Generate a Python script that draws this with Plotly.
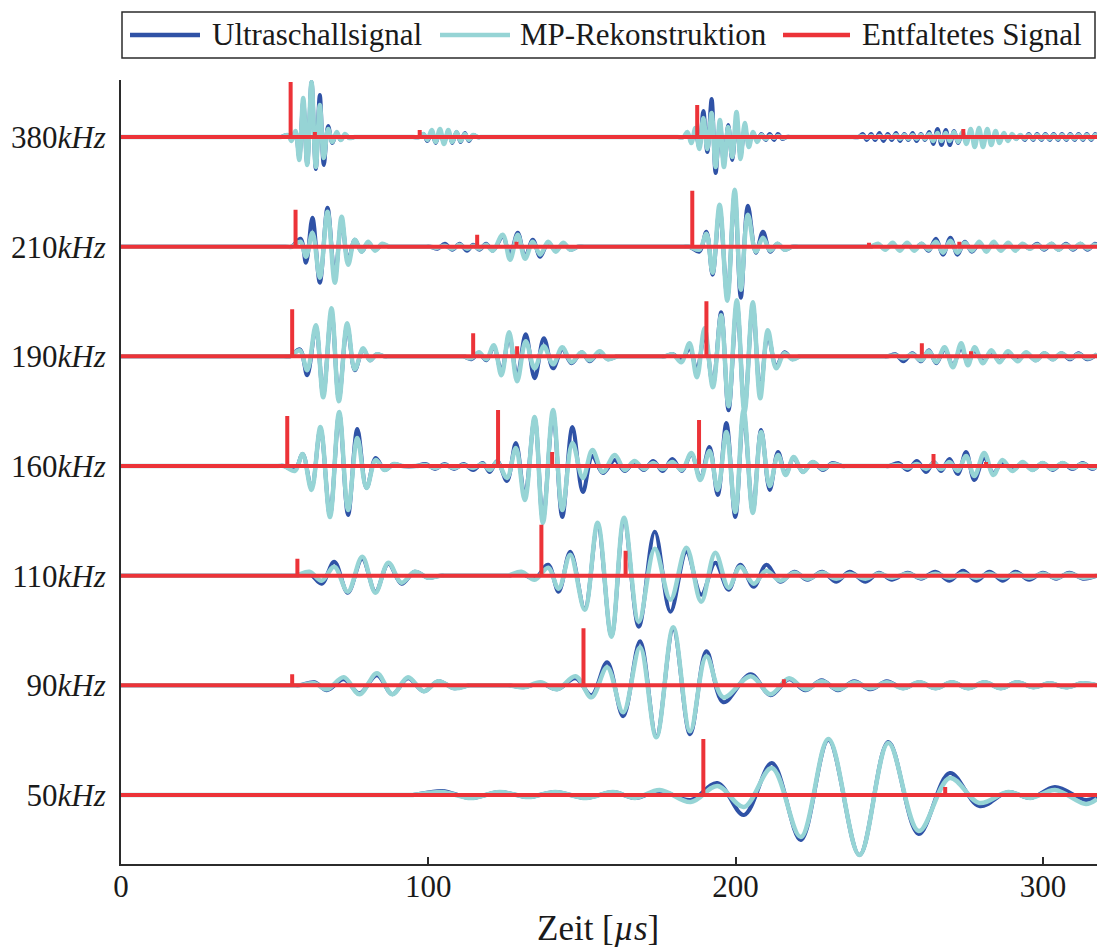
import plotly.graph_objects as go

# ---------------- data ----------------
T_END = 317.6  # right end of the time axis [µs]

ROW_NAMES = ["380", "210", "190", "160", "110", "90", "50"]
ROW_OFFSETS = [658.0, 548.3, 438.7, 329.0, 219.3, 109.7, 0.0]

# extrema times [µs] and amplitudes (blue = Ultraschallsignal, cyan = MP-Rekonstruktion)
t_380 = [0.0, 50.0, 52.0, 54.3, 55.5, 56.8, 58.0, 59.3, 60.6, 62.0, 63.4, 64.7, 66.0, 67.4, 68.8, 70.2, 71.5, 72.9, 74.3, 76.0, 78.0,
         95.0, 97.0, 98.4, 99.7, 101.1, 102.4, 103.8, 105.1, 106.5, 107.8, 109.2, 110.5, 111.9, 113.2, 114.6, 116.0, 118.0,
         181.0, 183.0, 184.3, 185.6, 186.9, 188.2, 189.5, 190.8, 192.2, 193.5, 194.9, 196.2, 197.6, 198.9, 200.3, 201.6, 203.0,
         204.3, 205.7, 207.0, 208.4, 209.8, 211.1, 212.5, 213.8, 215.2, 216.6, 218.6,
         238.0, 240.0, 241.4, 242.7, 244.1, 245.4, 246.8, 248.1, 249.5, 250.8, 252.2, 253.5, 254.9, 256.2, 257.6, 258.9, 260.3,
         261.6, 263.0, 264.3, 265.7, 267.0, 268.4, 269.7, 271.1, 272.4, 273.8, 275.1, 276.5, 277.8, 279.2, 280.5, 281.9,
         283.2, 284.6, 285.9, 287.3, 288.6, 290.0, 291.3,
         292.7, 294.1, 295.4, 296.8, 298.1, 299.5, 300.8, 302.2, 303.5, 304.9, 306.2, 307.6, 308.9, 310.3, 311.6, 313.0,
         314.3, 315.7, 317.0, 317.6]
blue_380 = [0, 0, 0, 2, -3, 5, -20, 35, -27, 55, -32, 42, -28, 11, -6, 4, -3, 2, -1, 0, 0,
            0, 0, 3, -4, 5, -6, 6, -6, 6, -6, 5, -5, 4, -4, 2, 0, 0,
            0, 0, 3, -4, 5, -10, 26, -15, 38, -36, 14, -27, 12, -23, 18, -18, 8,
            -6, 4, -4, 3, -3, 3, -3, 3, -2, 0, 0,
            0, 0, 3, -3, 3, -3, 4, -4, 3, -3, 4, -4, 3, -3, 4, -4, 3,
            -3, 5, -7, 8, -8, 7, -8, 6, -6, 4, -5, 5, -6, 5, -6, 4,
            -5, 3, -4, 3, -3, 2, -2,
            2, -3, 3, -3, 3, -3, 3, -3, 3, -3, 3, -3, 3, -3, 3, -3,
            3, -3, 3, -1]
cyan_380 = [0, 0, 0, 2, -4, 6, -23, 39, -28, 55, -30, 32, -21, 8, -5, 5, -3, 3, -1, 0, 0,
            0, 0, 3, -3, 7, -5, 8, -7, 7, -5, 5, -4, 3, -3, 2, 0, 0,
            0, 0, 5, -6, 9, -12, 19, -12, 24, -30, 17, -30, 10, -20, 25, -22, 14,
            -10, 5, -5, 2, -2, 1, -1, 1, -1, 0, 0,
            0, 0, 1, -1, 1, -1, 1, -1, 1, -1, 2, -2, 2, -2, 2, -2, 2,
            -2, 3, -4, 4, -4, 4, -4, 5, -5, 5, -7, 8, -10, 9, -10, 8,
            -8, 6, -6, 4, -4, 3, -2,
            2, -2, 2, -2, 2, -2, 2, -2, 2, -2, 2, -2, 2, -2, 2, -2,
            2, -2, 2, -1]

t_210 = [0.0, 53.5, 55.5, 58.4, 60.2, 62.3, 64.7, 67.2, 69.6, 71.8, 73.9, 76.1, 78.3, 80.4, 82.7, 85.0, 87.3, 89.3,
         98.6, 100.6, 103.0, 105.4, 107.8, 110.2, 112.6, 114.6, 116.6, 118.8, 121.0, 124.2, 126.6, 129.1, 131.5, 134.0,
         136.4, 139.0, 141.5, 143.9, 146.3, 148.7, 150.7,
         183.0, 185.0, 188.2, 190.5, 192.5, 194.8, 197.3, 199.7, 201.7, 204.0, 206.6, 208.9, 211.3, 213.6, 216.0, 218.4, 220.4,
         242.0, 244.0, 246.4, 248.7, 251.1, 253.4, 255.8, 258.1, 260.5, 262.8, 265.2, 267.5, 269.9, 272.2, 274.6, 276.9,
         279.3, 281.6, 284.0, 286.3, 288.7, 291.0, 293.4, 295.7,
         298.1, 300.4, 302.8, 305.1, 307.5, 309.8, 312.2, 314.5, 316.9, 317.6]
blue_210 = [0, 0, 0, 8, -16, 29, -36, 39, -30, 25, -14, 7, -5, 4, -3, 2, 0, 0,
            0, 0, -2, 3, -3, 3, -4, 2, -3, 3, -4, 10, -8, 14, -10, 7,
            -10, 4, -4, 3, -3, 0, 0,
            0, 0, -5, 15, -28, 38, -50, 52, -51, 41, -6, 15, -5, 3, -3, 0, 0,
            0, 0, 2, -2, 2, -2, 3, -3, 3, -4, 8, -8, 9, -8, 5, -5,
            3, -3, 3, -3, 2, -2, 2, -2,
            3, -3, 3, -3, 3, -3, 3, -3, 3, 2]
cyan_210 = [0, 0, 0, 5, -10, 14, -31, 35, -36, 30, -18, 7, -5, 5, -4, 3, 0, 0,
            0, 0, -1, 1, -2, 2, -2, 1, -2, 2, -4, 12, -13, 12, -12, 5,
            -8, 5, -5, 4, -3, 0, 0,
            0, 0, -3, 13, -26, 42, -54, 57, -43, 32, -5, 9, -4, 3, -3, 0, 0,
            0, 0, 3, -3, 4, -4, 4, -4, 3, -3, 5, -6, 6, -6, 4, -4,
            5, -5, 5, -4, 4, -4, 3, -2,
            2, -2, 3, -3, 2, -2, 3, -2, 2, 1]

t_190 = [0.0, 53.0, 55.0, 58.2, 60.6, 63.4, 65.8, 68.5, 70.9, 73.6, 76.1, 78.8, 81.0, 83.2, 85.6, 87.6,
         109.5, 111.5, 114.0, 116.5, 118.9, 121.3, 123.8, 126.3, 128.9, 131.7, 134.6, 137.6, 140.6, 143.6, 146.6, 149.9,
         152.5, 155.8, 158.5, 161.5, 163.5,
         175.0, 177.0, 179.6, 182.3, 185.0, 187.4, 189.9, 192.6, 195.3, 197.7, 200.4, 202.9, 205.6, 208.0, 210.5, 213.2,
         215.9, 218.5, 221.0, 223.0,
         247.5, 249.5, 252.0, 254.6, 257.5, 260.4, 262.9, 265.3, 268.0, 270.7, 273.4, 275.6, 277.8, 280.5, 283.2, 285.9,
         288.6, 291.8, 294.5, 297.7, 300.5, 303.2, 306.0, 308.8, 311.6, 314.4, 317.6]
blue_190 = [0, 0, 0, 7, -19, 29, -38, 44, -42, 30, -14, 7, -4, 2, 0, 0,
            0, 0, -3, 3, -4, 9, -15, 20, -20, 22, -22, 18, -12, 7, -7, 4,
            -5, 4, -3, 0, 0,
            0, 0, 2, -4, 8, -14, 22, -28, 44, -54, 52, -52, 50, -36, 22, -10,
            4, -3, 0, 0,
            0, 0, 2, -5, 3, -5, 6, -7, 7, -9, 9, -7, 6, -5, 4, -5,
            3, -4, 3, -4, 3, -3, 3, -3, 3, -3, 2]
cyan_190 = [0, 0, 0, 6, -14, 31, -41, 48, -45, 33, -13, 8, -4, 2, 0, 0,
            0, 0, -2, 4, -3, 11, -19, 24, -25, 15, -12, 10, -8, 9, -6, 4,
            -4, 5, -3, 0, 0,
            0, 0, 2, -6, 13, -21, 28, -31, 41, -50, 56, -56, 54, -42, 26, -12,
            3, -3, 0, 0,
            0, 0, 1, -2, 2, -4, 5, -6, 9, -11, 13, -9, 9, -7, 6, -6,
            5, -5, 4, -4, 3, -3, 3, -2, 2, -2, 2]

t_160 = [0.0, 51.0, 53.0, 56.6, 59.1, 62.0, 64.9, 68.0, 71.0, 73.9, 76.9, 79.9, 82.9, 85.8, 88.8, 91.5,
         96.0, 99.1, 102.2, 105.3, 108.4, 111.5, 114.6, 117.7, 120.0, 122.4, 125.6, 128.5, 131.4, 134.6, 137.3,
         140.6, 143.6, 146.9, 150.3, 153.4, 156.8, 160.7, 163.9, 167.1, 170.1, 173.2, 176.3, 179.4, 182.5, 185.6,
         188.5, 191.5, 194.2, 197.0, 199.9, 202.6, 205.6, 208.3, 211.1, 213.8, 216.3, 218.9, 221.9, 225.1, 228.4,
         231.5, 234.6, 236.6,
         248.0, 250.0, 253.0, 256.0, 259.0, 262.0, 264.5, 266.9, 269.6, 272.3, 275.0, 277.7, 280.9, 283.9, 286.8, 290.1,
         293.4, 296.6, 299.9, 303.1, 306.4, 309.6, 312.9, 316.1, 317.6]
blue_160 = [0, 0, 0, -4, 12, -22, 37, -49, 52, -49, 37, -22, 8, -4, 2, 0,
            0, 2, -3, 2, -3, 2, -4, 3, -6, 5, -15, 23, -30, 47, -53,
            52, -51, 39, -26, 10, -7, 6, -5, 4, -4, 5, -5, 7, -5, 12,
            -12, 19, -29, 43, -51, 52, -45, 36, -24, 14, -8, 8, -6, 4, -4,
            3, 0, 0,
            0, 0, 3, -4, 5, -6, 4, -5, 7, -8, 14, -14, 8, -7, 4, -4,
            3, -4, 3, -4, 3, -3, 3, -3, 0]
cyan_160 = [0, 0, 0, -5, 12, -24, 39, -51, 54, -44, 28, -22, 6, -4, 2, 0,
            0, 1, -2, 1, -2, 1, -2, 2, -4, 4, -12, 18, -34, 49, -57,
            56, -44, 23, -12, 16, -6, 11, -4, 5, -3, 3, -3, 4, -4, 13,
            -14, 15, -24, 34, -46, 56, -47, 34, -20, 11, -9, 9, -6, 4, -3,
            2, 0, 0,
            0, 0, 1, -2, 2, -3, 3, -3, 4, -5, 10, -10, 13, -9, 6, -5,
            4, -4, 3, -3, 3, -2, 2, -2, 0]

t_110 = [0.0, 55.0, 57.0, 61.3, 65.3, 69.4, 73.8, 78.5, 82.8, 87.0, 91.3, 95.6, 99.9, 104.0, 106.0,
         124.0, 126.0, 130.3, 134.6, 139.0, 142.4, 146.2, 150.9, 155.1, 159.6, 163.7, 168.5, 173.7, 178.8, 184.0, 188.8,
         193.4, 197.7, 201.5, 205.9, 210.0, 214.5, 219.1, 223.4, 228.2, 232.8, 237.1, 242.3, 246.6, 250.9, 256.0,
         260.3, 265.0, 269.6, 274.0, 278.3, 282.6, 287.0, 291.1, 295.5, 300.0, 304.3, 308.6, 313.0, 317.6]
blue_110 = [0, 0, 0, 2, -8, 14, -17, 17, -16, 12, -8, 4, -2, 0, 0,
            0, 0, 2, -3, 11, -16, 24, -33, 50, -60, 55, -51, 44, -36, 24, -19,
            13, -14, 11, -11, 11, -6, 4, -4, 4, -6, 4, -6, 3, -4, 3,
            -3, 4, -5, 5, -5, 4, -5, 4, -4, 3, -3, 3, -3, 0]
cyan_110 = [0, 0, 0, 4, -5, 9, -16, 19, -17, 13, -7, 4, -2, 0, 0,
            0, 0, 4, -4, 8, -13, 21, -34, 53, -61, 58, -46, 27, -24, 28, -26,
            23, -12, 9, -8, 5, -5, 3, -3, 3, -3, 2, -3, 2, -2, 2,
            -2, 2, -2, 2, -2, 2, -2, 2, -2, 2, -2, 2, -2, 0]

t_90 = [0.0, 56.0, 58.0, 63.0, 67.0, 72.5, 77.6, 83.3, 88.3, 93.4, 98.5, 103.3, 108.5, 113.5, 115.5,
        124.0, 126.0, 131.0, 136.5, 141.9, 147.9, 153.1, 158.2, 163.4, 168.9, 174.2, 179.7, 185.2, 190.5, 196.0, 204.9,
        211.4, 217.4, 222.7, 228.0, 233.3, 238.6, 243.9, 249.2, 254.5, 259.8, 265.1, 270.4, 275.7, 281.0, 286.3,
        291.6, 296.9, 302.2, 307.5, 312.8, 317.6]
blue_90 = [0, 0, 0, 3, -5, 6, -8, 10, -9, 7, -6, 4, -3, 0, 0,
           0, 0, -2, 2, -4, 7, -10, 23, -31, 44, -51, 56, -49, 34, -17, 11,
           -10, 6, -5, 5, -5, 4, -4, 4, -3, 3, -3, 3, -3, 3, -3,
           3, -2, 2, -2, 2, 0]
cyan_90 = [0, 0, 0, 2, -4, 8, -9, 12, -9, 8, -6, 4, -3, 0, 0,
           0, 0, -2, 3, -4, 9, -12, 18, -27, 38, -52, 58, -46, 29, -12, 9,
           -9, 7, -4, 4, -4, 3, -3, 3, -3, 3, -3, 3, -3, 3, -3,
           3, -2, 2, -2, 2, 0]

t_50 = [0.0, 93.0, 95.0, 104.5, 113.9, 123.2, 132.6, 141.3, 151.4, 160.1, 167.3, 175.3, 185.4, 194.1, 202.7, 211.8,
        221.2, 230.2, 240.3, 249.7, 259.6, 269.7, 279.3, 288.7, 296.0, 303.9, 314.0, 317.6]
blue_50 = [0, 0, 0, 4, -3, 3, -2, 3, -3, 3, -3, 4, -5, 12, -20, 32,
           -45, 55, -60, 53, -39, 22, -11, 3, -3, 8, -5, -2]
cyan_50 = [0, 0, 0, 3, -3, 3, -2, 3, -3, 3, -3, 5, -7, 9, -12, 27,
           -42, 56, -60, 52, -36, 17, -8, 3, -3, 5, -9, -4]

# deconvolved signal: spike times [µs] and heights
spk_t_380 = [55.2, 63.1, 97.2, 187.5, 274.1]
spk_a_380 = [55, 5, 7, 32, 8]
spk_t_210 = [56.8, 115.9, 128.7, 185.9, 243.4, 272.8]
spk_a_210 = [37, 12, 5, 56, 4, 5]
spk_t_190 = [55.7, 114.6, 128.9, 190.5, 260.6, 276.6]
spk_a_190 = [47, 23, 10, 55, 13, 5]
spk_t_160 = [54.1, 122.7, 140.3, 188.1, 264.4, 281.5]
spk_a_160 = [50, 56, 14, 46, 12, 4]
spk_t_110 = [57.4, 136.8, 164.2]
spk_a_110 = [17, 51, 25]
spk_t_90 = [55.7, 150.5, 215.7]
spk_a_90 = [11, 57, 6]
spk_t_50 = [189.5, 268.2]
spk_a_50 = [56, 8]

X_TICKS = [0, 100, 200, 300]
LEGEND_NAMES = ["Ultraschallsignal", "MP-Rekonstruktion", "Entfaltetes Signal"]

# ---------------- styling ----------------
BLUE = "#2f52a6"
CYAN = "#96d4d5"
RED = "#ec3338"
AXIS = "#2b2b2b"
TXT = "#1a1a1a"
FONT = "Liberation Serif"
W, H = 1097, 947
ML, MR, MT, MB = 121, 0, 80, 83
PW, PH = W - ML - MR, H - MT - MB

rows = [
    (t_380, blue_380, cyan_380, spk_t_380, spk_a_380),
    (t_210, blue_210, cyan_210, spk_t_210, spk_a_210),
    (t_190, blue_190, cyan_190, spk_t_190, spk_a_190),
    (t_160, blue_160, cyan_160, spk_t_160, spk_a_160),
    (t_110, blue_110, cyan_110, spk_t_110, spk_a_110),
    (t_90, blue_90, cyan_90, spk_t_90, spk_a_90),
    (t_50, blue_50, cyan_50, spk_t_50, spk_a_50),
]

fig = go.Figure()

for (t, b, c, st, sa), off in zip(rows, ROW_OFFSETS):
    fig.add_trace(go.Scatter(x=t, y=[off + v for v in b], mode="lines",
                             line=dict(color=BLUE, width=4, shape="spline", smoothing=1.0),
                             showlegend=False, hoverinfo="skip"))
for (t, b, c, st, sa), off in zip(rows, ROW_OFFSETS):
    fig.add_trace(go.Scatter(x=t, y=[off + v for v in c], mode="lines",
                             line=dict(color=CYAN, width=4.5, shape="spline", smoothing=1.0),
                             showlegend=False, hoverinfo="skip"))
for (t, b, c, st, sa), off in zip(rows, ROW_OFFSETS):
    xs, ys = [0.0], [off]
    for ts, a in zip(st, sa):
        xs += [ts, ts, ts]
        ys += [off, off + a, off]
    xs.append(T_END)
    ys.append(off)
    fig.add_trace(go.Scatter(x=xs, y=ys, mode="lines",
                             line=dict(color=RED, width=4),
                             showlegend=False, hoverinfo="skip"))


def px(xp):
    return (xp - ML) / PW


def py(yp):
    return (H - MB - yp) / PH


shapes = [dict(type="rect", xref="paper", yref="paper",
               x0=px(122), x1=px(1095), y0=py(58), y1=py(12),
               line=dict(color=AXIS, width=1.5), fillcolor="white", layer="above")]
annotations = []
leg_lines = [(130, 200, BLUE), (440, 510, CYAN), (783, 850, RED)]
leg_text_x = [210, 518, 860]
for (x0, x1, col), tx, name in zip(leg_lines, leg_text_x, LEGEND_NAMES):
    shapes.append(dict(type="line", xref="paper", yref="paper",
                       x0=px(x0), x1=px(x1), y0=py(35), y1=py(35),
                       line=dict(color=col, width=4.5), layer="above"))
    annotations.append(dict(text=name, xref="paper", yref="paper", x=px(tx), y=py(35),
                            xanchor="left", yanchor="middle", showarrow=False,
                            font=dict(family=FONT, size=31, color=TXT)))

annotations.append(dict(text="Zeit [<i>µs</i>]", xref="paper", yref="paper",
                        x=px(598), y=py(928), xanchor="center", yanchor="middle",
                        showarrow=False, font=dict(family=FONT, size=35, color=TXT)))

fig.update_layout(
    width=W, height=H, autosize=False,
    margin=dict(l=ML, r=MR, t=MT, b=MB, pad=0),
    plot_bgcolor="white", paper_bgcolor="white",
    shapes=shapes, annotations=annotations, showlegend=False,
    xaxis=dict(range=[0, T_END], tickvals=X_TICKS, ticktext=[str(v) for v in X_TICKS],
               showgrid=False, zeroline=False, showline=True, linecolor=AXIS, linewidth=2,
               ticks="inside", ticklen=7, tickwidth=1.5, tickcolor=AXIS,
               tickfont=dict(family=FONT, size=31, color=TXT), ticklabelstandoff=-6),
    yaxis=dict(range=[-69, 715], tickvals=ROW_OFFSETS,
               ticktext=[n + "<i>kHz</i>" for n in ROW_NAMES],
               showgrid=False, zeroline=False, showline=True, linecolor=AXIS, linewidth=2,
               ticks="", tickfont=dict(family=FONT, size=31, color=TXT),
               ticklabelstandoff=7),
)

fig.write_html("out.html", config={"displayModeBar": False},
               post_script="document.body.style.margin='0';document.body.style.overflow='hidden';")
